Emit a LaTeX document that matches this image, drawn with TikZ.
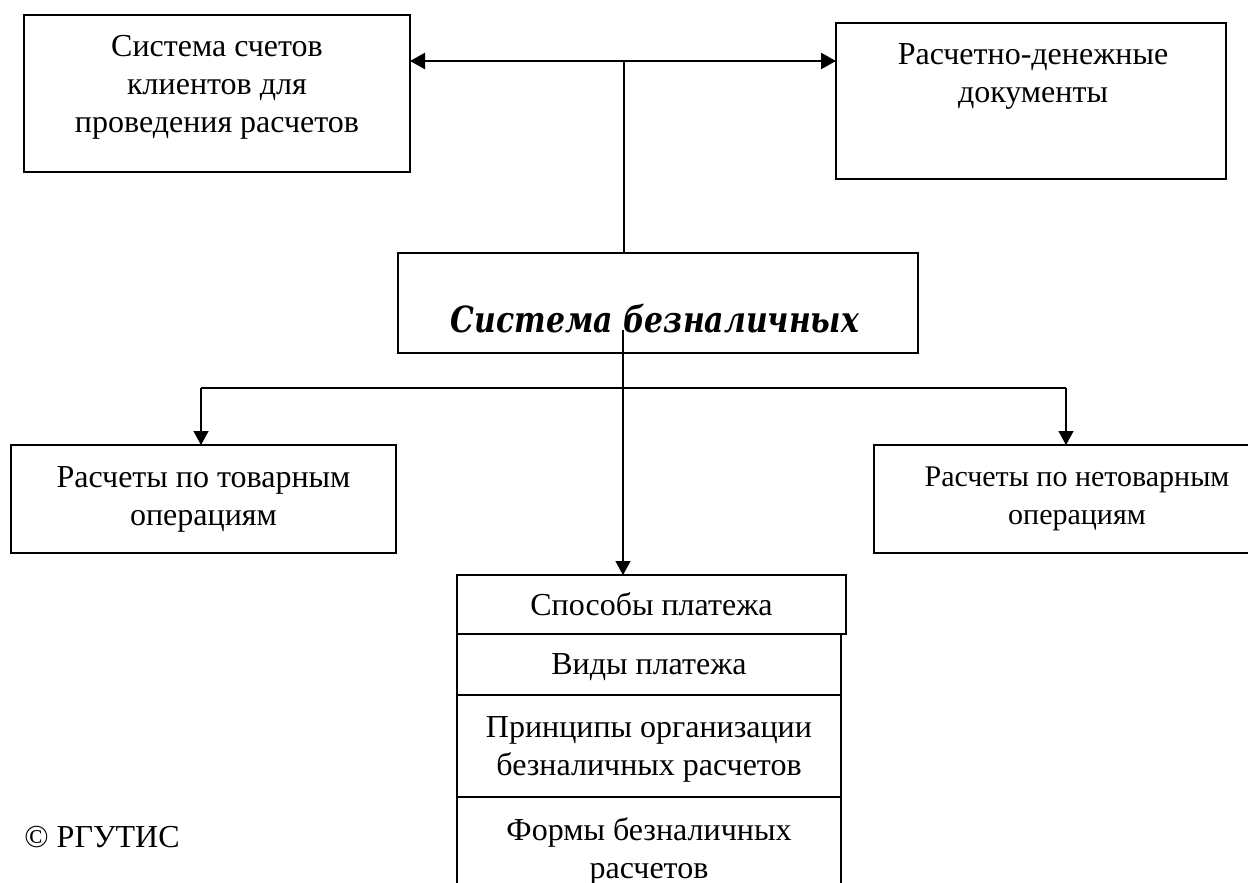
\documentclass[tikz,border=0pt]{standalone}
\usepackage{fontspec}
\setmainfont{Liberation Serif}
\newfontfamily\titlefont[FakeStretch=0.83]{DejaVu Serif}
\usetikzlibrary{arrows.meta}

\tikzset{
  box/.style = {draw, line width=0.9pt, outer sep=0pt, inner sep=0pt, anchor=north west},
  txt/.style = {align=center, inner sep=0pt, font=\fontsize{16}{19}\selectfont},
  con/.style = {line width=0.7pt, -{Triangle[length=7pt,width=7.5pt]}}
}

\begin{document}
\begin{tikzpicture}[x=0.5pt, y=-0.5pt]
\useasboundingbox (0,0) rectangle (1248,883);
\clip (0,0) rectangle (1248,883);

\node [box, minimum width=193pt, minimum height=78.5pt] (schet) at (24,15) {};
\node [box, minimum width=195pt, minimum height=78pt] (docs) at (836,23) {};
\node [box, minimum width=260pt, minimum height=50pt] (sistema) at (398,253) {};
\node [box, minimum width=192.5pt, minimum height=54pt, txt] (tovar) at (11,445) {Расчеты по товарным\\операциям};
\node [box, minimum width=203pt, minimum height=54pt, txt, font=\fontsize{15}{19}\selectfont] (netovar) at (874,445) {Расчеты по нетоварным\\операциям};
\node [box, minimum width=194.5pt, minimum height=29.5pt, txt] (sp1) at (457,575) {Способы платежа};
\node [box, minimum width=192pt, minimum height=30.5pt, txt, text depth=0pt] (sp2) at (457,634) {Виды платежа};
\node [box, minimum width=192pt, minimum height=51pt, txt, text depth=0pt] (sp3) at (457,695) {Принципы организации\\безналичных расчетов};
\node [box, minimum width=192pt, minimum height=51.5pt, txt, text depth=0pt] (sp4) at (457,797) {Формы безналичных\\расчетов};

\node [txt, anchor=base] (schettxt) at (217,133) {Система счетов\\клиентов для\\проведения расчетов};
\node [txt, anchor=base] (docstxt) at (1033,103) {Расчетно-денежные\\документы};
\node [inner sep=0pt, anchor=base, font=\titlefont\fontsize{18}{22}\selectfont\bfseries\itshape] (sistematxt) at (655,332) {Система безналичных};
\node [txt, anchor=base west] (copy) at (24,847) {© РГУТИС};

\coordinate (hub) at (624,61);
\coordinate (mid) at (623,330);
\coordinate (busL) at (201,388);
\coordinate (busR) at (1066,388);

\draw [line width=1.2pt, {Triangle[length=7.5pt,width=8pt]}-{Triangle[length=7.5pt,width=8pt]}] (hub -| schet.east) -- (hub -| docs.west);
\draw [line width=0.7pt] (hub) -- (hub |- sistema.north);
\draw [con] (mid) -- (mid |- sp1.north);
\draw [line width=0.7pt] (busL) -- (busR);
\draw [con] (busL) -- (busL |- tovar.north);
\draw [con] (busR) -- (busR |- netovar.north);
\end{tikzpicture}
\end{document}
